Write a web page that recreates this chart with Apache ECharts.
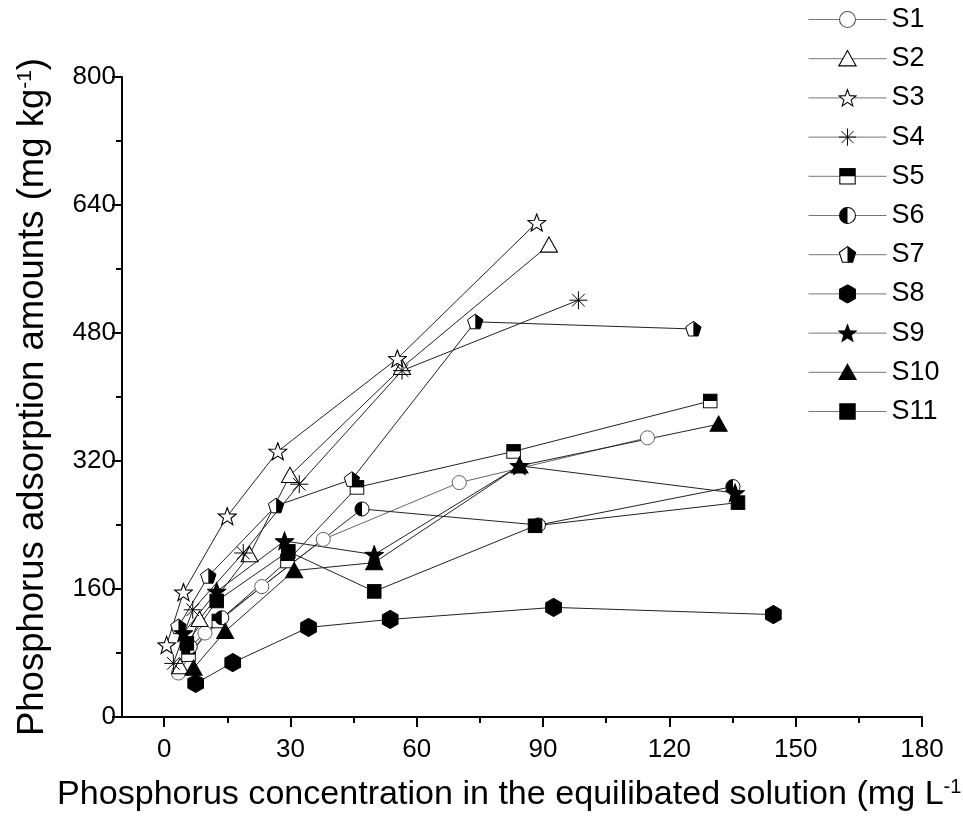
<!DOCTYPE html>
<html>
<head>
<meta charset="utf-8">
<script src="https://cdn.jsdelivr.net/npm/echarts@6/dist/echarts.min.js"></script>
<style>html,body{margin:0;padding:0;background:#fff;}#chart{width:963px;height:823px;}</style>
</head>
<body>
<div id="chart"></div>
<script>
// ---- data (x: mg L-1, y: mg kg-1) ----
const seriesNames = ['S1','S2','S3','S4','S5','S6','S7','S8','S9','S10','S11'];
const S1 = [[3.4,55],[9.7,105],[23.2,163],[37.8,222],[70.1,293],[114.8,349]];
const S2 = [[3.8,63],[8.4,122],[20.3,203],[29.9,302],[56.5,437],[91.4,590]];
const S3 = [[0.6,90],[4.6,156],[15.0,251],[27.0,332],[55.4,448],[88.5,618]];
const S4 = [[2.2,67],[6.8,134],[18.8,205],[32.1,291],[56.5,433],[98.4,521]];
const S5 = [[5.8,78],[13.0,120],[29.3,195],[45.8,287],[83.0,332],[129.7,395]];
const S6 = [[6.2,88],[13.7,124],[47.0,260],[88.9,240],[135.1,288]];
const S7 = [[3.4,113],[10.5,176],[26.6,264],[44.6,297],[73.9,494],[125.7,485]];
const S8 = [[7.5,42],[16.3,68],[34.3,112],[53.7,122],[92.5,137],[144.7,128]];
const S9 = [[4.6,105],[12.5,157],[28.6,220],[49.9,203],[84.4,314],[135.6,280]];
const S10 = [[7.0,61],[14.5,107],[30.9,183],[49.9,193],[84.4,314],[131.7,366]];
const S11 = [[5.4,92],[12.5,145],[29.5,207],[49.9,157],[88.1,239],[136.3,268]];
const allData = [S1,S2,S3,S4,S5,S6,S7,S8,S9,S10,S11];
const xTicks = [0,30,60,90,120,150,180];
const xMinorTicks = [15,45,75,105,135,165];

// ---- marker drawings ----
function starPts(cx,cy,R,r){const p=[];for(let i=0;i<10;i++){const a=-Math.PI/2+i*Math.PI/5;const rad=i%2?r:R;p.push((cx+rad*Math.cos(a)).toFixed(2)+','+(cy+rad*Math.sin(a)).toFixed(2));}return p.join(' ');}
function polyPts(cx,cy,R,n,start){const p=[];for(let i=0;i<n;i++){const a=start+i*2*Math.PI/n;p.push((cx+R*Math.cos(a)).toFixed(2)+','+(cy+R*Math.sin(a)).toFixed(2));}return p.join(' ');}
function svgImg(inner){return 'image://data:image/svg+xml;charset=utf-8,'+encodeURIComponent('<svg xmlns="http://www.w3.org/2000/svg" width="40" height="40" viewBox="0 0 20 20">'+inner+'</svg>');}
const sw = 'stroke="#000" stroke-width="1.1"';
let ast='';for(let i=0;i<4;i++){const a=i*Math.PI/4;const dx=9*Math.cos(a),dy=9*Math.sin(a);ast+='<line x1="'+(10-dx).toFixed(2)+'" y1="'+(10-dy).toFixed(2)+'" x2="'+(10+dx).toFixed(2)+'" y2="'+(10+dy).toFixed(2)+'" stroke="#000" stroke-width="1"/>';}
const symbols = [
  svgImg('<circle cx="10" cy="10" r="8.3" fill="#fff" stroke="#555" stroke-width="1.1"/>'),
  svgImg('<polygon points="10,1.5 19,17.5 1,17.5" fill="#fff" '+sw+'/>'),
  svgImg('<polygon points="'+starPts(10,10.8,9.4,3.9)+'" fill="#fff" '+sw+'/>'),
  svgImg(ast),
  svgImg('<rect x="2" y="2" width="16" height="16" fill="#fff" '+sw+'/><rect x="2" y="2" width="16" height="8" fill="#000"/>'),
  svgImg('<circle cx="10" cy="10" r="8.3" fill="#fff" '+sw+'/><path d="M10,1.7 A8.3,8.3 0 0 0 10,18.3 Z" fill="#000"/>'),
  svgImg('<polygon points="'+polyPts(10,10.5,9,5,-Math.PI/2)+'" fill="#fff" '+sw+'/><polygon points="10,1.5 18.56,7.72 15.29,17.78 10,17.78" fill="#000"/>'),
  svgImg('<polygon points="'+polyPts(10,10,9.5,6,-Math.PI/2)+'" fill="#000" '+sw+'/>'),
  svgImg('<polygon points="'+starPts(10,10.8,9.6,4.0)+'" fill="#000" '+sw+'/>'),
  svgImg('<polygon points="10,1.5 19,17.5 1,17.5" fill="#000" '+sw+'/>'),
  svgImg('<rect x="2" y="2" width="16" height="16" fill="#000" '+sw+'/>')
];
const symSizes = [17,19,20,20,17,17,18,19,20,19,17];

const chart = echarts.init(document.getElementById('chart'));
const FONT = 'Liberation Sans, Arial, sans-serif';
const NARROW = '"Liberation Sans Narrow", "Arial Narrow", "Liberation Sans", sans-serif';
const series = seriesNames.map((n,i)=>({
  name:n, type:'line', data:allData[i], xAxisIndex:0, yAxisIndex:0,
  symbol:symbols[i], symbolSize:symSizes[i], showSymbol:true, symbolKeepAspect:true,
  lineStyle:{color: i===0 ? '#666' : '#222', width:1},
  itemStyle:{color: i===0 ? '#666' : '#222'},
  animation:false, z: 2
}));

chart.setOption({
  backgroundColor:'#fff',
  animation:false,
  grid:{left:122, right:41, top:77, bottom:106, containLabel:false},
  legend:{
    orient:'vertical', left:803, top:1, itemWidth:78, itemHeight:24, itemGap:12.2,
    data:seriesNames,
    textStyle:{fontFamily:FONT, fontSize:27, color:'#000'},
    lineStyle:{color:'#777', width:1}
  },
  xAxis:[{
    type:'value', min:-10, max:180,
    axisLine:{show:true, onZero:false, lineStyle:{color:'#000', width:2}},
    axisTick:{show:true, customValues:xTicks, length:10, inside:false, lineStyle:{color:'#000', width:2}},
    axisLabel:{customValues:xTicks, fontFamily:NARROW, fontSize:26, color:'#000', margin:20},
    splitLine:{show:false}
  },{
    type:'value', min:-10, max:180, position:'bottom',
    axisLine:{show:false},
    axisTick:{show:true, customValues:xMinorTicks, length:6, inside:false, lineStyle:{color:'#000', width:2}},
    axisLabel:{show:false},
    splitLine:{show:false}
  }],
  yAxis:[{
    type:'value', min:0, max:800, interval:160,
    axisLine:{show:true, onZero:false, lineStyle:{color:'#000', width:2}},
    axisTick:{show:true, length:10, inside:false, lineStyle:{color:'#000', width:2}},
    minorTick:{show:true, splitNumber:2, length:6, lineStyle:{color:'#000', width:2}},
    axisLabel:{fontFamily:NARROW, fontSize:26, color:'#000', margin:6},
    splitLine:{show:false}
  }],
  graphic:[
    {type:'text', left:57, top:777,
      style:{text:'{m|Phosphorus concentration in the equilibated solution (mg L}{s|-1}',
        rich:{m:{fontFamily:FONT, fontSize:34.1, fill:'#000'}, s:{fontFamily:FONT, fontSize:20, fill:'#000', verticalAlign:'top', padding:[0,0,16,0]}}}},
    {type:'text', x:33, y:397, rotation:Math.PI/2,
      style:{text:'{m|Phosphorus adsorption amounts (mg kg}{s|-1}{m|)}', align:'center', verticalAlign:'middle',
        rich:{m:{fontFamily:FONT, fontSize:36.5, fill:'#000'}, s:{fontFamily:FONT, fontSize:21, fill:'#000', padding:[0,0,16,0]}}}}
  ],
  series: series
});
</script>
</body>
</html>
